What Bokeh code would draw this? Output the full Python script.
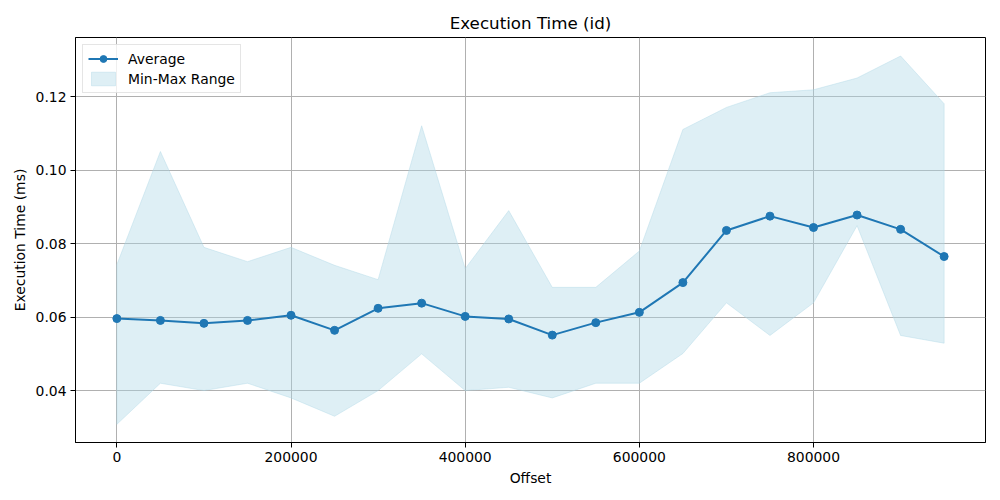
from bokeh.plotting import figure
from bokeh.models import FixedTicker, BasicTickFormatter, NumeralTickFormatter, Legend, LegendItem
from bokeh.embed import file_html
from bokeh.resources import INLINE

# data
offsets = [0, 50000, 100000, 150000, 200000, 250000, 300000, 350000, 400000, 450000,
           500000, 550000, 600000, 650000, 700000, 750000, 800000, 850000, 900000, 950000]
avg_ms = [0.0596, 0.0591, 0.0583, 0.0591, 0.0605, 0.0564, 0.0624, 0.0638, 0.0602, 0.0595,
          0.0551, 0.0585, 0.0613, 0.0694, 0.0836, 0.0875, 0.0844, 0.0878, 0.0839, 0.0765]
max_ms = [0.0743, 0.1051, 0.0790, 0.0751, 0.0790, 0.0741, 0.0702, 0.1121, 0.0732, 0.0890,
          0.0681, 0.0681, 0.0780, 0.1111, 0.1171, 0.1211, 0.1219, 0.1251, 0.1311, 0.1181]
min_ms = [0.0308, 0.0420, 0.0400, 0.0420, 0.0380, 0.0330, 0.0400, 0.0500, 0.0400, 0.0409,
          0.0380, 0.0420, 0.0420, 0.0501, 0.0639, 0.0550, 0.0639, 0.0849, 0.0550, 0.0529]

x_ticks = [0, 200000, 400000, 600000, 800000]
y_ticks = [0.04, 0.06, 0.08, 0.10, 0.12]

font = "DejaVu Sans"

p = figure(width=1000, height=500, output_backend="svg", toolbar_location=None,
           x_range=(-47500, 997500), y_range=(0.02586, 0.13614),
           title="Execution Time (id)", x_axis_label="Offset", y_axis_label="Execution Time (ms)",
           min_border_left=75, min_border_right=15, min_border_top=37, min_border_bottom=58)

# min-max band (outline goes max forward, min backward)
band = p.patch(offsets + offsets[::-1], max_ms + min_ms[::-1],
               fill_color="lightblue", fill_alpha=0.4,
               line_color="lightblue", line_alpha=0.4, line_width=1)

# average line with markers
avg_line = p.line(offsets, avg_ms, line_color="#1f77b4", line_width=2)
avg_dots = p.scatter(offsets, avg_ms, size=8, fill_color="#1f77b4", line_color="#1f77b4")

# title
p.title.text_font = font
p.title.text_font_size = "16.7px"
p.title.text_font_style = "normal"
p.title.text_color = "black"
p.title.align = "center"
p.title.offset = 0

# axes
p.xaxis.ticker = FixedTicker(ticks=x_ticks)
p.yaxis.ticker = FixedTicker(ticks=y_ticks)
p.xaxis.formatter = BasicTickFormatter(use_scientific=False)
p.yaxis.formatter = NumeralTickFormatter(format="0.00")
for ax in [p.xaxis, p.yaxis]:
    ax.axis_label_text_font = font
    ax.axis_label_text_font_size = "13.9px"
    ax.axis_label_text_font_style = "normal"
    ax.axis_label_text_color = "black"
    ax.major_label_text_font = font
    ax.major_label_text_font_size = "13.9px"
    ax.major_label_text_color = "black"
    ax.major_tick_out = 5
    ax.major_tick_in = 0
    ax.minor_tick_line_color = None
    ax.axis_line_color = "black"
    ax.major_tick_line_color = "black"
    ax.major_label_standoff = 4
    ax.axis_label_standoff = 5

p.outline_line_color = "black"
p.outline_line_width = 1
p.outline_line_alpha = 1

p.grid.grid_line_color = "#b0b0b0"
p.grid.grid_line_width = 1

# legend
legend = Legend(items=[
    LegendItem(label="Average", renderers=[avg_line, avg_dots]),
    LegendItem(label="Min-Max Range", renderers=[band]),
], location="top_left")
legend.margin = 7
legend.padding = 5
legend.spacing = 3
legend.glyph_height = 17
legend.glyph_width = 30
legend.label_standoff = 10
legend.label_text_font = font
legend.label_text_font_size = "13.9px"
legend.label_text_color = "black"
legend.border_line_color = "#cccccc"
legend.border_line_width = 1
legend.background_fill_alpha = 0.8
p.add_layout(legend)

open("out.html", "w").write(file_html(p, INLINE))
